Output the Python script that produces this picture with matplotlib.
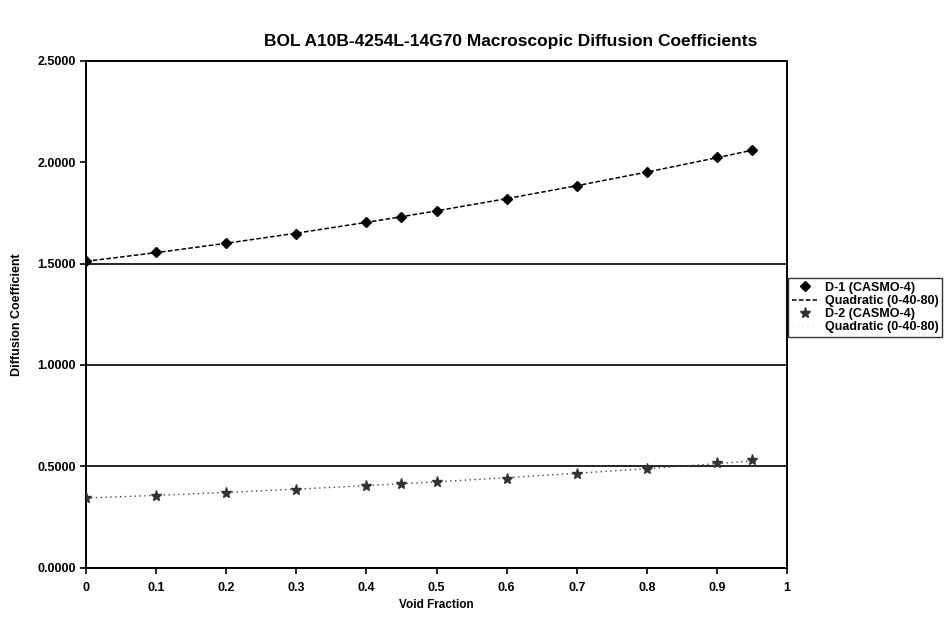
import numpy as np
import matplotlib
matplotlib.use('Agg')
import matplotlib.pyplot as plt

plt.rcParams['font.family'] = ['Liberation Sans', 'DejaVu Sans']

void = [0.0, 0.1, 0.2, 0.3, 0.4, 0.45, 0.5, 0.6, 0.7, 0.8, 0.9, 0.95]
d1 = [1.511, 1.557, 1.600, 1.648, 1.703, 1.728, 1.759, 1.818, 1.881, 1.951, 2.027, 2.061]
d2 = [0.344, 0.352, 0.369, 0.384, 0.405, 0.413, 0.425, 0.439, 0.464, 0.489, 0.516, 0.530]
fit_idx = [0, 4, 9]  # void fractions 0, 0.4, 0.8

xticks = [0, 0.1, 0.2, 0.3, 0.4, 0.5, 0.6, 0.7, 0.8, 0.9, 1]
xticklabels = ['0', '0.1', '0.2', '0.3', '0.4', '0.5', '0.6', '0.7', '0.8', '0.9', '1']
yticks = [0.0, 0.5, 1.0, 1.5, 2.0, 2.5]

# quadratic trendlines through the 0-40-80 points
vx = np.array(void)
c1 = np.polyfit(vx[fit_idx], np.array(d1)[fit_idx], 2)
c2 = np.polyfit(vx[fit_idx], np.array(d2)[fit_idx], 2)

fig = plt.figure(figsize=(9.48, 6.26), dpi=100)
ax = fig.add_axes([0.0907, 0.093, 0.7395, 0.81])

ax.plot(void, d1, 'D', color='black', markersize=5, label='D-1 (CASMO-4)', zorder=4)
ax.plot(void, np.polyval(c1, vx), color='black', lw=1.1, ls=(0, (3, 1.5)),
        label='Quadratic (0-40-80)', zorder=3)
ax.plot(void, d2, '*', color='#333333', markersize=8, label='D-2 (CASMO-4)', zorder=4)
ax.plot(void, np.polyval(c2, vx), color='#444444', lw=1.0, ls=(0, (1, 2.5)),
        label='Quadratic (0-40-80)', zorder=3)

ax.set_xlim(0, 1)
ax.set_ylim(0, 2.5)
ax.set_xticks(xticks)
ax.set_xticklabels(xticklabels)
ax.set_yticks(yticks)
ax.yaxis.set_major_formatter(matplotlib.ticker.FormatStrFormatter('%.4f'))
ax.tick_params(labelsize=9, width=1.2, length=4)
ax.tick_params(axis='x', pad=6)
for lab in ax.get_xticklabels() + ax.get_yticklabels():
    lab.set_fontweight('bold')

ax.grid(axis='y', color='black', lw=1.2)
ax.get_ygridlines()[4].set_visible(False)
ax.get_ygridlines()[5].set_visible(False)

for s in ['left', 'bottom']:
    ax.spines[s].set_linewidth(1.4)
for s in ['top', 'right']:
    ax.spines[s].set_linestyle((0, (1, 1)))
    ax.spines[s].set_linewidth(1.4)

fig.text(0.539, 0.933, 'BOL A10B-4254L-14G70 Macroscopic Diffusion Coefficients',
         fontsize=12.5, fontweight='bold', ha='center', va='center')
ax.set_xlabel('Void Fraction', fontsize=8.5, fontweight='bold', labelpad=4)
ax.set_ylabel('Diffusion Coefficient', fontsize=9, fontweight='bold', labelpad=10)

leg = ax.legend(loc='upper left', bbox_to_anchor=(0.825, 0.566),
                bbox_transform=fig.transFigure, fontsize=9, frameon=True,
                fancybox=False, edgecolor='black', handlelength=2.0,
                borderpad=0.3, labelspacing=0.1, handletextpad=0.6)
leg.get_frame().set_linewidth(1.0)
for t in leg.get_texts():
    t.set_fontweight('bold')
leg.legend_handles[3].set_alpha(0.15)

fig.savefig('out.png', dpi=100)
